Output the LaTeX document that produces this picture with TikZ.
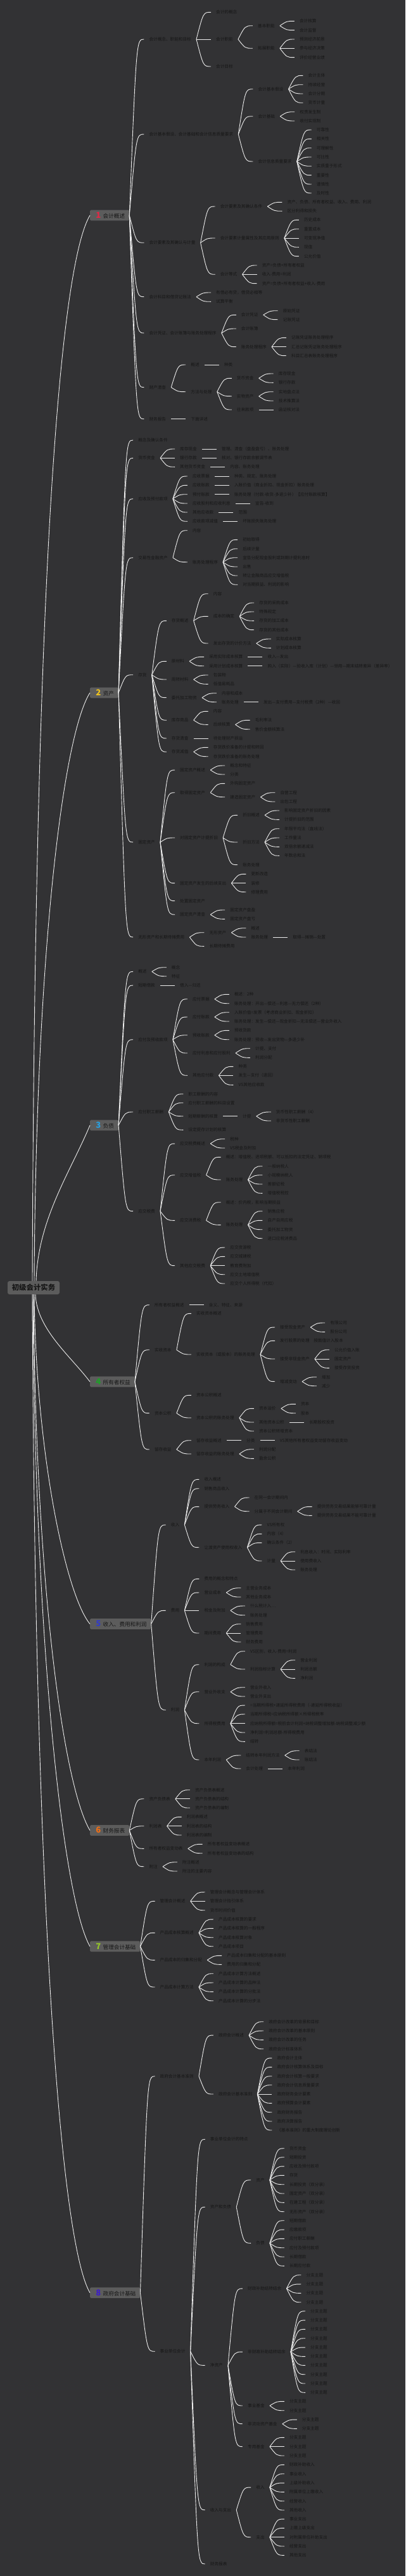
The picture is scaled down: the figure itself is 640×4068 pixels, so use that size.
\documentclass[tikz,border=0pt]{standalone}
\usepackage{fontspec}
\setmainfont{Noto Sans CJK SC}
\usepackage{tikz}
\usetikzlibrary{positioning, calc}
\usepackage{color}

\definecolor{bg}{RGB}{50,50,52}
\definecolor{boxgray}{RGB}{92,92,92}
\definecolor{ink}{RGB}{22,22,22}
\definecolor{wire}{RGB}{236,236,236}
\definecolor{no1}{RGB}{226,40,70}
\definecolor{no2}{RGB}{240,196,30}
\definecolor{no3}{RGB}{40,160,225}
\definecolor{no4}{RGB}{30,160,40}
\definecolor{no5}{RGB}{50,60,200}
\definecolor{no6}{RGB}{240,110,20}
\definecolor{no7}{RGB}{150,200,40}
\definecolor{no8}{RGB}{60,30,200}

% child node: parent, name, y, text
\newcommand\twig[4]{%
  \path (#1.east) ++(23,0) coordinate (tx);
  \coordinate (ty) at (0,#3);
  \node[tp] (#2) at (tx |- ty) {#4};
  \draw[link] (#1.east) .. controls ($(#1.east |- #2.west)+(11,0)$) .. (#2.west);
}
\newcommand\mainlabel[3]{\hspace*{10pt}\makebox[6.5pt]{\fontsize{13}{13}\selectfont\bfseries\textcolor{#1}{#2}}\hspace*{4pt}#3\hspace*{7pt}}

\begin{document}
\begin{tikzpicture}[x=1pt, y=-1pt,
  tp/.style={anchor=west, inner xsep=8pt, inner ysep=1pt, text=ink, font=\fontsize{6.63}{8}\selectfont},
  link/.style={draw=wire, line width=0.9pt},
  mainbox/.style={anchor=west, fill=boxgray, rounded corners=1.5pt, inner sep=0pt, minimum height=16.7pt, text=ink, font=\fontsize{8.6}{10}\selectfont},
  rootbox/.style={fill=boxgray, rounded corners=3pt, minimum width=82pt, minimum height=21pt, inner sep=0pt, text=ink, font=\fontsize{11.4}{13}\selectfont\bfseries}]

  \path[use as bounding box, fill=bg] (0,0) rectangle (640,4068);

  \node[rootbox] (root) at (53,2033.5) {初级会计实务};

  \node[mainbox] (m1) at (142,340) {\mainlabel{no1}{1}{会计概述}};
  \node[mainbox] (m2) at (142,1094) {\mainlabel{no2}{2}{资产}};
  \node[mainbox] (m3) at (142,1777) {\mainlabel{no3}{3}{负债}};
  \node[mainbox] (m4) at (142,2182) {\mainlabel{no4}{4}{所有者权益}};
  \node[mainbox] (m5) at (142,2564.5) {\mainlabel{no5}{5}{收入、费用和利润}};
  \node[mainbox] (m6) at (142,2890.5) {\mainlabel{no6}{6}{财务报表}};
  \node[mainbox] (m7) at (142,3073.7) {\mainlabel{no7}{7}{管理会计基础}};
  \node[mainbox] (m8) at (142,3620.7) {\mainlabel{no8}{8}{政府会计基础}};

  \draw[link] ([xshift=-2]root.north) .. controls (55,900) and (95,420) .. (m1.west);
  \draw[link] ([xshift=1]root.north) .. controls (57,1500) and (100,1160) .. (m2.west);
  \draw[link] ([xshift=4]root.north) .. controls (60,1925) and (111,1851) .. (m3.west);
  \draw[link] ([xshift=3]root.south) .. controls (58,2099) and (112,2142) .. (m4.west);
  \draw[link] ([xshift=1]root.south) .. controls (57,2300) and (105,2520) .. (m5.west);
  \draw[link] ([xshift=0]root.south) .. controls (56,2500) and (100,2820) .. (m6.west);
  \draw[link] ([xshift=-1]root.south) .. controls (55,2600) and (100,3000) .. (m7.west);
  \draw[link] ([xshift=-2]root.south) .. controls (55,3000) and (95,3540) .. (m8.west);

  % 1 会计概述
  \twig{m1}{m1a}{62}{会计概念、职能和目标}
  \twig{m1a}{m1aa}{19.3}{会计的概念}
  \twig{m1a}{m1ab}{62}{会计职能}
  \twig{m1ab}{m1aba}{40.7}{基本职能}
  \twig{m1aba}{m1abaa}{33.3}{会计核算}
  \twig{m1aba}{m1abab}{47.7}{会计监督}
  \twig{m1ab}{m1abb}{76.3}{拓展职能}
  \twig{m1abb}{m1abba}{62}{预测经济前景}
  \twig{m1abb}{m1abbb}{76.3}{参与经济决策}
  \twig{m1abb}{m1abbc}{90.7}{评价经营业绩}
  \twig{m1a}{m1ac}{105}{会计目标}
  \twig{m1}{m1b}{212}{会计基本假设、会计基础和会计信息质量要求}
  \twig{m1b}{m1ba}{140.7}{会计基本假设}
  \twig{m1ba}{m1baa}{119.3}{会计主体}
  \twig{m1ba}{m1bab}{133.7}{持续经营}
  \twig{m1ba}{m1bac}{148}{会计分期}
  \twig{m1ba}{m1bad}{162.3}{货币计量}
  \twig{m1b}{m1bb}{183.7}{会计基础}
  \twig{m1bb}{m1bba}{176.7}{权责发生制}
  \twig{m1bb}{m1bbb}{191}{收付实现制}
  \twig{m1b}{m1bc}{255}{会计信息质量要求}
  \twig{m1bc}{m1bca}{205}{可靠性}
  \twig{m1bc}{m1bcb}{219.3}{相关性}
  \twig{m1bc}{m1bcc}{233.7}{可理解性}
  \twig{m1bc}{m1bcd}{248}{可比性}
  \twig{m1bc}{m1bce}{262.3}{实质重于形式}
  \twig{m1bc}{m1bcf}{276.7}{重要性}
  \twig{m1bc}{m1bcg}{291}{谨慎性}
  \twig{m1bc}{m1bch}{305}{及时性}
  \twig{m1}{m1c}{383.3}{会计要素及其确认与计量}
  \twig{m1c}{m1ca}{326}{会计要素及其确认条件}
  \twig{m1ca}{m1caa}{319.3}{资产、负债、所有者权益、收入、费用、利润}
  \twig{m1ca}{m1cab}{333.3}{区分利得和损失}
  \twig{m1c}{m1cb}{376}{会计要素计量属性及其应用原则}
  \twig{m1cb}{m1cba}{347.3}{历史成本}
  \twig{m1cb}{m1cbb}{361.7}{重置成本}
  \twig{m1cb}{m1cbc}{376}{可变现净值}
  \twig{m1cb}{m1cbd}{390.3}{现值}
  \twig{m1cb}{m1cbe}{404.7}{公允价值}
  \twig{m1c}{m1cc}{433.3}{会计等式}
  \twig{m1cc}{m1cca}{419}{资产=负债+所有者权益}
  \twig{m1cc}{m1ccb}{433.3}{收入-费用=利润}
  \twig{m1cc}{m1ccc}{447.7}{资产=负债+所有者权益+收入-费用}
  \twig{m1}{m1d}{468.7}{会计科目和借贷记账法}
  \twig{m1d}{m1da}{462}{有借必有贷，借贷必相等}
  \twig{m1d}{m1db}{476.3}{试算平衡}
  \twig{m1}{m1e}{526}{会计凭证、会计账簿与账务处理程序}
  \twig{m1e}{m1ea}{497.3}{会计凭证}
  \twig{m1ea}{m1eaa}{490.7}{原始凭证}
  \twig{m1ea}{m1eab}{504.7}{记账凭证}
  \twig{m1e}{m1eb}{519}{会计账簿}
  \twig{m1e}{m1ec}{547.7}{账务处理程序}
  \twig{m1ec}{m1eca}{533.3}{记账凭证账务处理程序}
  \twig{m1ec}{m1ecb}{547.7}{汇总记账凭证账务处理程序}
  \twig{m1ec}{m1ecc}{561.7}{科目汇总表账务处理程序}
  \twig{m1}{m1f}{611.7}{财产清查}
  \twig{m1f}{m1fa}{576}{概述}
  \twig{m1fa}{m1faa}{576}{种类}
  \twig{m1f}{m1fb}{618.7}{方法与处理}
  \twig{m1fb}{m1fba}{597.3}{货币资金}
  \twig{m1fba}{m1fbaa}{590}{库存现金}
  \twig{m1fba}{m1fbab}{604.3}{银行存款}
  \twig{m1fb}{m1fbb}{625.7}{实物资产}
  \twig{m1fbb}{m1fbba}{618.7}{实地盘点法}
  \twig{m1fbb}{m1fbbb}{633}{技术推算法}
  \twig{m1fb}{m1fbc}{647}{往来款项}
  \twig{m1fbc}{m1fbca}{647}{函证核对法}
  \twig{m1}{m1g}{661.7}{财务报告}
  \twig{m1g}{m1ga}{661.7}{下面详述}

  % 2 资产
  \twig{m2}{m2a}{695}{概念及确认条件}
  \twig{m2}{m2b}{723.3}{货币资金}
  \twig{m2b}{m2ba}{709}{库存现金}
  \twig{m2ba}{m2baa}{709}{管理、清查（盘盈盘亏）、账务处理}
  \twig{m2b}{m2bb}{723.3}{银行存款}
  \twig{m2bb}{m2bba}{723.3}{核对、银行存款余额调节表}
  \twig{m2b}{m2bc}{737.3}{其他货币资金}
  \twig{m2bc}{m2bca}{737.3}{内容、账务处理}
  \twig{m2}{m2c}{787.7}{应收及预付款项}
  \twig{m2c}{m2ca}{752}{应收票据}
  \twig{m2ca}{m2caa}{752}{种类、规定、账务处理}
  \twig{m2c}{m2cb}{766.3}{应收账款}
  \twig{m2cb}{m2cba}{766.3}{入账价值（商业折扣、现金折扣）账务处理}
  \twig{m2c}{m2cc}{780.7}{预付账款}
  \twig{m2cc}{m2cca}{780.7}{账务处理（付款-收货-多退少补）【应付账款核算】}
  \twig{m2c}{m2cd}{795}{应收股利和应收利息}
  \twig{m2cd}{m2cda}{795}{宣告-收到}
  \twig{m2c}{m2ce}{809}{其他应收款}
  \twig{m2ce}{m2cea}{809}{范围}
  \twig{m2c}{m2cf}{823.3}{应收款项减值}
  \twig{m2cf}{m2cfa}{823.3}{坏账损失账务处理}
  \twig{m2}{m2d}{880.7}{交易性金融资产}
  \twig{m2d}{m2da}{837.7}{内容}
  \twig{m2d}{m2db}{887.7}{账务处理程序}
  \twig{m2db}{m2dba}{852.3}{初始取得}
  \twig{m2db}{m2dbb}{866.7}{后续计量}
  \twig{m2db}{m2dbc}{880.7}{宣告分配现金股利或到期计提利息时}
  \twig{m2db}{m2dbd}{895}{出售}
  \twig{m2db}{m2dbe}{909}{转让金融商品应交增值税}
  \twig{m2db}{m2dbf}{923.3}{对当期损益、利润的影响}
  \twig{m2}{m2e}{1065.7}{存货}
  \twig{m2e}{m2ea}{980.3}{存货概述}
  \twig{m2ea}{m2eaa}{937.7}{内容}
  \twig{m2ea}{m2eab}{973.3}{成本的确定}
  \twig{m2eab}{m2eaba}{952}{存货的采购成本}
  \twig{m2eab}{m2eabb}{966}{特殊规定}
  \twig{m2eab}{m2eabc}{980.3}{存货的加工成本}
  \twig{m2eab}{m2eabd}{994.7}{存货的其他成本}
  \twig{m2ea}{m2eac}{1016}{发出存货的计价方法}
  \twig{m2eac}{m2eaca}{1009}{实际成本核算}
  \twig{m2eac}{m2eacb}{1023.3}{计划成本核算}
  \twig{m2e}{m2eb}{1044.3}{原材料}
  \twig{m2eb}{m2eba}{1037.3}{采用实际成本核算}
  \twig{m2eba}{m2ebaa}{1037.3}{收入—发出}
  \twig{m2eb}{m2ebb}{1051.7}{采用计划成本核算}
  \twig{m2ebb}{m2ebba}{1051.7}{购入（实际）—验收入库（计划）—领用—期末结转差异（差异率）}
  \twig{m2e}{m2ec}{1073}{周转材料}
  \twig{m2ec}{m2eca}{1066}{包装物}
  \twig{m2ec}{m2ecb}{1080.3}{低值易耗品}
  \twig{m2e}{m2ed}{1101.7}{委托加工物资}
  \twig{m2ed}{m2eda}{1094.7}{内容和成本}
  \twig{m2ed}{m2edb}{1108.7}{账务处理}
  \twig{m2edb}{m2edba}{1108.7}{发出—支付费用—支付税费（2种）—收回}
  \twig{m2e}{m2ee}{1137.3}{库存商品}
  \twig{m2ee}{m2eea}{1123.3}{内容}
  \twig{m2ee}{m2eeb}{1144.3}{后续核算}
  \twig{m2eeb}{m2eeba}{1137.3}{毛利率法}
  \twig{m2eeb}{m2eebb}{1151.7}{售价金额核算法}
  \twig{m2e}{m2ef}{1166}{存货清查}
  \twig{m2ef}{m2efa}{1166}{待处理财产损溢}
  \twig{m2e}{m2eg}{1187.3}{存货减值}
  \twig{m2eg}{m2ega}{1180.3}{存货跌价准备的计提和转回}
  \twig{m2eg}{m2egb}{1194.7}{存货跌价准备的账务处理}
  \twig{m2}{m2f}{1330}{固定资产}
  \twig{m2f}{m2fa}{1216}{固定资产概述}
  \twig{m2fa}{m2faa}{1209}{概念和特征}
  \twig{m2fa}{m2fab}{1223}{分类}
  \twig{m2f}{m2fb}{1251.7}{取得固定资产}
  \twig{m2fb}{m2fba}{1237.3}{外购固定资产}
  \twig{m2fb}{m2fbb}{1258.7}{建造固定资产}
  \twig{m2fbb}{m2fbba}{1251.7}{自营工程}
  \twig{m2fbb}{m2fbbb}{1266}{出包工程}
  \twig{m2f}{m2fc}{1323}{对固定资产计提折旧}
  \twig{m2fc}{m2fca}{1287.3}{折旧概述}
  \twig{m2fca}{m2fcaa}{1280}{影响固定资产折旧的因素}
  \twig{m2fca}{m2fcab}{1294.3}{计提折旧的范围}
  \twig{m2fc}{m2fcb}{1330}{折旧方法}
  \twig{m2fcb}{m2fcba}{1308.7}{年限平均法（直线法）}
  \twig{m2fcb}{m2fcbb}{1323}{工作量法}
  \twig{m2fcb}{m2fcbc}{1337.3}{双倍余额递减法}
  \twig{m2fcb}{m2fcbd}{1351.3}{年数总和法}
  \twig{m2fc}{m2fcc}{1365.7}{账务处理}
  \twig{m2f}{m2fd}{1394.7}{固定资产发生的后续支出}
  \twig{m2fd}{m2fda}{1380.3}{更新改造}
  \twig{m2fd}{m2fdb}{1394.7}{装修}
  \twig{m2fd}{m2fdc}{1408.7}{修理费用}
  \twig{m2f}{m2fe}{1422.7}{处置固定资产}
  \twig{m2f}{m2ff}{1444.3}{固定资产清查}
  \twig{m2ff}{m2ffa}{1437}{固定资产盘盈}
  \twig{m2ff}{m2ffb}{1451.3}{固定资产盘亏}
  \twig{m2}{m2g}{1480}{无形资产和长期待摊费用}
  \twig{m2g}{m2ga}{1472.7}{无形资产}
  \twig{m2ga}{m2gaa}{1465.7}{概述}
  \twig{m2ga}{m2gab}{1480}{账务处理}
  \twig{m2gab}{m2gaba}{1480}{取得—摊销—处置}
  \twig{m2g}{m2gb}{1494.3}{长期待摊费用}

  % 3 负债
  \twig{m3}{m3a}{1534.3}{概述}
  \twig{m3a}{m3aa}{1527.7}{概念}
  \twig{m3a}{m3ab}{1541.7}{特征}
  \twig{m3}{m3b}{1556}{短期借款}
  \twig{m3b}{m3ba}{1556}{借入—归还}
  \twig{m3}{m3c}{1641.7}{应付及预收款项}
  \twig{m3c}{m3ca}{1577.7}{应付票据}
  \twig{m3ca}{m3caa}{1570.3}{概述：2种}
  \twig{m3ca}{m3cab}{1584.7}{账务处理：开出—偿还—利息—无力偿还（2种）}
  \twig{m3c}{m3cb}{1606}{应付账款}
  \twig{m3cb}{m3cba}{1598.7}{入账价值=发票（考虑商业折扣、现金折扣）}
  \twig{m3cb}{m3cbb}{1613}{账务处理：发生—偿还—现金折扣—无法偿还—营业外收入}
  \twig{m3c}{m3cc}{1634.7}{预收账款}
  \twig{m3cc}{m3cca}{1627.3}{预收货款}
  \twig{m3cc}{m3ccb}{1641.7}{账务处理：预收—发出货物—多退少补}
  \twig{m3c}{m3cd}{1663}{应付利息和应付股利}
  \twig{m3cd}{m3cda}{1655.7}{计提、支付}
  \twig{m3cd}{m3cdb}{1670.3}{利润分配}
  \twig{m3c}{m3ce}{1698.3}{其他应付款}
  \twig{m3ce}{m3cea}{1684.3}{种类}
  \twig{m3ce}{m3ceb}{1698.3}{发生—支付（退回）}
  \twig{m3ce}{m3cec}{1713.3}{VS其他应收款}
  \twig{m3}{m3d}{1756}{应付职工薪酬}
  \twig{m3d}{m3da}{1727.7}{职工薪酬的内容}
  \twig{m3d}{m3db}{1741.7}{应付职工薪酬的科目设置}
  \twig{m3d}{m3dc}{1762.7}{短期薪酬的核算}
  \twig{m3dc}{m3dca}{1762.7}{计提}
  \twig{m3dca}{m3dcaa}{1756}{货币性职工薪酬（4）}
  \twig{m3dca}{m3dcab}{1770}{非货币性职工薪酬}
  \twig{m3d}{m3dd}{1784.3}{设定提存计划的核算}
  \twig{m3}{m3e}{1912.7}{应交税费}
  \twig{m3e}{m3ea}{1806}{应交税费概述}
  \twig{m3ea}{m3eaa}{1798.7}{税种}
  \twig{m3ea}{m3eab}{1813}{VS税金及附加}
  \twig{m3e}{m3eb}{1855.7}{应交增值税}
  \twig{m3eb}{m3eba}{1827.3}{概述：增值税、进项税额、可以抵扣的法定凭证、销项税}
  \twig{m3eb}{m3ebb}{1863}{账务处理}
  \twig{m3ebb}{m3ebba}{1841.7}{一般纳税人}
  \twig{m3ebb}{m3ebbb}{1855.7}{小规模纳税人}
  \twig{m3ebb}{m3ebbc}{1870}{差额征税}
  \twig{m3ebb}{m3ebbd}{1884.3}{增值税税控}
  \twig{m3e}{m3ec}{1927.3}{应交消费税}
  \twig{m3ec}{m3eca}{1898.7}{概述：价内税，影响当期损益}
  \twig{m3ec}{m3ecb}{1934.3}{账务处理}
  \twig{m3ecb}{m3ecba}{1912.7}{销售应税}
  \twig{m3ecb}{m3ecbb}{1927.3}{自产自用应税}
  \twig{m3ecb}{m3ecbc}{1941.7}{委托加工物资}
  \twig{m3ecb}{m3ecbd}{1955.7}{进口应税消费品}
  \twig{m3e}{m3ed}{1998.7}{其他应交税费}
  \twig{m3ed}{m3eda}{1970}{应交资源税}
  \twig{m3ed}{m3edb}{1984.3}{应交城建税}
  \twig{m3ed}{m3edc}{1998.7}{教育费附加}
  \twig{m3ed}{m3edd}{2012.7}{应交土地增值税}
  \twig{m3ed}{m3ede}{2027}{应交个人所得税（代扣）}

  % 4 所有者权益
  \twig{m4}{m4a}{2060.7}{所有者权益概述}
  \twig{m4a}{m4aa}{2060.7}{含义、特征、来源}
  \twig{m4}{m4b}{2131.7}{实收资本}
  \twig{m4b}{m4ba}{2074.3}{实收资本概述}
  \twig{m4b}{m4bb}{2139}{实收资本（或股本）的账务处理}
  \twig{m4bb}{m4bba}{2096}{接受现金资产}
  \twig{m4bba}{m4bbaa}{2089}{有限公司}
  \twig{m4bba}{m4bbab}{2103.3}{股份公司}
  \twig{m4bb}{m4bbb}{2117.3}{发行股票的处理\quad 按面值计入股本}
  \twig{m4bb}{m4bbc}{2146}{接受非现金资产}
  \twig{m4bbc}{m4bbca}{2131.7}{公允价值入账}
  \twig{m4bbc}{m4bbcb}{2146}{固定资产}
  \twig{m4bbc}{m4bbcc}{2160.3}{接受存货投资}
  \twig{m4bb}{m4bbd}{2181.7}{增减变动}
  \twig{m4bbd}{m4bbda}{2174.7}{增加}
  \twig{m4bbd}{m4bbdb}{2188.7}{减少}
  \twig{m4}{m4c}{2231.7}{资本公积}
  \twig{m4c}{m4ca}{2203.3}{资本公积概述}
  \twig{m4c}{m4cb}{2239}{资本公积的账务处理}
  \twig{m4cb}{m4cba}{2224.3}{资本溢价}
  \twig{m4cba}{m4cbaa}{2217.3}{资本}
  \twig{m4cba}{m4cbab}{2231.7}{股本}
  \twig{m4cb}{m4cbb}{2246}{其他资本公积}
  \twig{m4cbb}{m4cbba}{2246}{长期股权投资}
  \twig{m4cb}{m4cbc}{2260}{资本公积转增资本}
  \twig{m4}{m4d}{2289}{留存收益}
  \twig{m4d}{m4da}{2274.7}{留存收益概述}
  \twig{m4da}{m4daa}{2274.7}{分类}
  \twig{m4daa}{m4daaa}{2274.7}{VS其他所有者权益变动留存收益变动}
  \twig{m4d}{m4db}{2296}{留存收益的账务处理}
  \twig{m4db}{m4dba}{2288.7}{利润分配}
  \twig{m4db}{m4dbb}{2303.3}{盈余公积}

  % 5 收入、费用和利润
  \twig{m5}{m5a}{2408}{收入}
  \twig{m5a}{m5aa}{2336.3}{收入概述}
  \twig{m5a}{m5ab}{2350.7}{销售商品收入}
  \twig{m5a}{m5ac}{2379.3}{提供劳务收入}
  \twig{m5ac}{m5aca}{2365}{在同一会计期间内}
  \twig{m5ac}{m5acb}{2386.7}{分属于不同会计期间}
  \twig{m5acb}{m5acba}{2379.3}{提供劳务交易结果能够可靠计量}
  \twig{m5acb}{m5acbb}{2393.3}{提供劳务交易结果不能可靠计量}
  \twig{m5a}{m5ad}{2443.7}{让渡资产使用权收入}
  \twig{m5ad}{m5ada}{2408}{VS所有权}
  \twig{m5ad}{m5adb}{2422.3}{内容（4）}
  \twig{m5ad}{m5adc}{2436.3}{确认条件（2）}
  \twig{m5ad}{m5add}{2465}{计量}
  \twig{m5add}{m5adda}{2450.7}{利息收入：时间、实际利率}
  \twig{m5add}{m5addb}{2465}{使用费收入}
  \twig{m5add}{m5addc}{2479}{账务处理}
  \twig{m5}{m5b}{2543.3}{费用}
  \twig{m5b}{m5ba}{2493.3}{费用的概念和特点}
  \twig{m5b}{m5bb}{2515}{营业成本}
  \twig{m5bb}{m5bba}{2507.7}{主营业务成本}
  \twig{m5bb}{m5bbb}{2522}{其他业务成本}
  \twig{m5b}{m5bc}{2543.3}{税金及附加}
  \twig{m5bc}{m5bca}{2536}{什么税计入…}
  \twig{m5bc}{m5bcb}{2550.7}{账务处理}
  \twig{m5b}{m5bd}{2579}{期间费用}
  \twig{m5bd}{m5bda}{2564.7}{销售费用}
  \twig{m5bd}{m5bdb}{2579}{管理费用}
  \twig{m5bd}{m5bdc}{2593}{财务费用}
  \twig{m5}{m5c}{2700.3}{利润}
  \twig{m5c}{m5ca}{2628.7}{利润的构成}
  \twig{m5ca}{m5caa}{2607.7}{VS区别，收入-费用=利润}
  \twig{m5ca}{m5cab}{2636}{利润指标计算}
  \twig{m5cab}{m5caba}{2621.7}{营业利润}
  \twig{m5cab}{m5cabb}{2636}{利润总额}
  \twig{m5cab}{m5cabc}{2650.3}{净利润}
  \twig{m5c}{m5cb}{2671.7}{营业外收支}
  \twig{m5cb}{m5cba}{2664.7}{营业外收入}
  \twig{m5cb}{m5cbb}{2679}{营业外支出}
  \twig{m5c}{m5cc}{2721.7}{所得税费用}
  \twig{m5cc}{m5cca}{2693}{=当期所得税+递延所得税费用（-递延所得税收益）}
  \twig{m5cc}{m5ccb}{2707}{当期所得税=应纳税所得额×所得税税率}
  \twig{m5cc}{m5ccc}{2721.7}{应纳税所得额=税前会计利润+纳税调整增加额-纳税调整减少额}
  \twig{m5cc}{m5ccd}{2736}{净利润=利润总额-所得税费用}
  \twig{m5cc}{m5cce}{2750.3}{结转}
  \twig{m5c}{m5cd}{2779}{本年利润}
  \twig{m5cd}{m5cda}{2772}{结转本年利润方法}
  \twig{m5cda}{m5cdaa}{2764.7}{表结法}
  \twig{m5cda}{m5cdab}{2779}{账结法}
  \twig{m5cd}{m5cdb}{2793}{会计处理}
  \twig{m5cdb}{m5cdba}{2793}{本年利润}

  % 6 财务报表
  \twig{m6}{m6a}{2840.7}{资产负债表}
  \twig{m6a}{m6aa}{2826.7}{资产负债表概述}
  \twig{m6a}{m6ab}{2840.7}{资产负债表的结构}
  \twig{m6a}{m6ac}{2855}{资产负债表的编制}
  \twig{m6}{m6b}{2883.7}{利润表}
  \twig{m6b}{m6ba}{2869.3}{利润表概述}
  \twig{m6b}{m6bb}{2883.7}{利润表的结构}
  \twig{m6b}{m6bc}{2898}{利润表的编制}
  \twig{m6}{m6c}{2919.3}{所有者权益变动表}
  \twig{m6c}{m6ca}{2912.3}{所有者权益变动表概述}
  \twig{m6c}{m6cb}{2926.7}{所有者权益变动表的结构}
  \twig{m6}{m6d}{2947.7}{附注}
  \twig{m6d}{m6da}{2940.7}{附注概述}
  \twig{m6d}{m6db}{2955}{附注的主要内容}

  % 7 管理会计基础
  \twig{m7}{m7a}{3002.3}{管理会计概述}
  \twig{m7a}{m7aa}{2988}{管理会计概念与管理会计体系}
  \twig{m7a}{m7ab}{3002.3}{管理会计指引体系}
  \twig{m7a}{m7ac}{3016.7}{货币时间价值}
  \twig{m7}{m7b}{3052.3}{产品成本核算概述}
  \twig{m7b}{m7ba}{3031}{产品成本核算的要求}
  \twig{m7b}{m7bb}{3045.3}{产品成本核算的一般程序}
  \twig{m7b}{m7bc}{3059.7}{产品成本核算对象}
  \twig{m7b}{m7bd}{3073.7}{产品成本项目}
  \twig{m7}{m7c}{3095.3}{产品成本的归集和分配}
  \twig{m7c}{m7ca}{3088.3}{产品成本归集和分配的基本原则}
  \twig{m7c}{m7cb}{3102.3}{费用的归集和分配}
  \twig{m7}{m7d}{3138}{产品成本计算方法}
  \twig{m7d}{m7da}{3116.7}{产品成本计算方法概述}
  \twig{m7d}{m7db}{3131}{产品成本计算的品种法}
  \twig{m7d}{m7dc}{3145.3}{产品成本计算的分批法}
  \twig{m7d}{m7dd}{3159.7}{产品成本计算的分步法}

  % 8 政府会计基础
  \twig{m8}{m8a}{3278.7}{政府会计基本准则}
  \twig{m8a}{m8aa}{3214}{政府会计概述}
  \twig{m8aa}{m8aaa}{3192.7}{政府会计改革的背景和目标}
  \twig{m8aa}{m8aab}{3207}{政府会计改革的基本原则}
  \twig{m8aa}{m8aac}{3221.3}{政府会计改革的任务}
  \twig{m8aa}{m8aad}{3235.7}{政府会计标准体系}
  \twig{m8a}{m8ab}{3307}{政府会计基本准则}
  \twig{m8ab}{m8aba}{3250}{政府会计主体}
  \twig{m8ab}{m8abb}{3264.3}{政府会计核算体系及目标}
  \twig{m8ab}{m8abc}{3278.7}{政府会计核算一般要求}
  \twig{m8ab}{m8abd}{3292.7}{政府会计信息质量要求}
  \twig{m8ab}{m8abe}{3307}{政府财务会计要素}
  \twig{m8ab}{m8abf}{3321.3}{政府预算会计要素}
  \twig{m8ab}{m8abg}{3335.7}{政府财务报告}
  \twig{m8ab}{m8abh}{3350}{政府决算报告}
  \twig{m8ab}{m8abi}{3364}{《基本准则》的重大制度理论创新}
  \twig{m8}{m8b}{3713.3}{事业单位会计}
  \twig{m8b}{m8ba}{3378.3}{事业单位会计的特点}
  \twig{m8b}{m8bb}{3485.3}{资产和负债}
  \twig{m8bb}{m8bba}{3442.7}{资产}
  \twig{m8bba}{m8bbaa}{3392.7}{货币资金}
  \twig{m8bba}{m8bbab}{3406.7}{短期投资}
  \twig{m8bba}{m8bbac}{3421}{应收及预付款项}
  \twig{m8bba}{m8bbad}{3435.3}{存货}
  \twig{m8bba}{m8bbae}{3449.7}{长期投资（双分录）}
  \twig{m8bba}{m8bbaf}{3464}{固定资产（双分录）}
  \twig{m8bba}{m8bbag}{3478.3}{在建工程（双分录）}
  \twig{m8bba}{m8bbah}{3492.7}{无形资产（双分录）}
  \twig{m8bb}{m8bbb}{3542.3}{负债}
  \twig{m8bbb}{m8bbba}{3506.7}{短期借款}
  \twig{m8bbb}{m8bbbb}{3521}{应缴款项}
  \twig{m8bbb}{m8bbbc}{3535.3}{应付职工薪酬}
  \twig{m8bbb}{m8bbbd}{3549.7}{应付及预付款项}
  \twig{m8bbb}{m8bbbe}{3564}{长期借款}
  \twig{m8bbb}{m8bbbf}{3578.3}{长期应付款}
  \twig{m8b}{m8bc}{3735.3}{净资产}
  \twig{m8bc}{m8bca}{3614}{财政补助结转结余}
  \twig{m8bca}{m8bcaa}{3592.7}{分支主题}
  \twig{m8bca}{m8bcab}{3607}{分支主题}
  \twig{m8bca}{m8bcac}{3621.3}{分支主题}
  \twig{m8bca}{m8bcad}{3635.7}{分支主题}
  \twig{m8bc}{m8bcb}{3714}{非财政补助结转结余}
  \twig{m8bcb}{m8bcba}{3649.7}{分支主题}
  \twig{m8bcb}{m8bcbb}{3664}{分支主题}
  \twig{m8bcb}{m8bcbc}{3678.3}{分支主题}
  \twig{m8bcb}{m8bcbd}{3692.7}{分支主题}
  \twig{m8bcb}{m8bcbe}{3707}{分支主题}
  \twig{m8bcb}{m8bcbf}{3721.3}{分支主题}
  \twig{m8bcb}{m8bcbg}{3735.3}{分支主题}
  \twig{m8bcb}{m8bcbh}{3749.7}{分支主题}
  \twig{m8bcb}{m8bcbi}{3764}{分支主题}
  \twig{m8bcb}{m8bcbj}{3778.3}{分支主题}
  \twig{m8bc}{m8bcc}{3799}{事业基金}
  \twig{m8bcc}{m8bcca}{3792.3}{分支主题}
  \twig{m8bcc}{m8bccb}{3806.7}{分支主题}
  \twig{m8bc}{m8bcd}{3827.7}{非流动资产基金}
  \twig{m8bcd}{m8bcda}{3821}{分支主题}
  \twig{m8bcd}{m8bcdb}{3835.3}{分支主题}
  \twig{m8bc}{m8bce}{3863.7}{专用基金}
  \twig{m8bce}{m8bcea}{3849.3}{分支主题}
  \twig{m8bce}{m8bceb}{3863.7}{分支主题}
  \twig{m8bce}{m8bcec}{3878}{分支主题}
  \twig{m8b}{m8bd}{3963.7}{收入与支出}
  \twig{m8bd}{m8bda}{3928}{收入}
  \twig{m8bda}{m8bdaa}{3892.3}{财政补助收入}
  \twig{m8bda}{m8bdab}{3906.7}{事业收入}
  \twig{m8bda}{m8bdac}{3921}{上级补助收入}
  \twig{m8bda}{m8bdad}{3935.3}{附属单位上缴收入}
  \twig{m8bda}{m8bdae}{3949.7}{经营收入}
  \twig{m8bda}{m8bdaf}{3964}{其他收入}
  \twig{m8bd}{m8bdb}{4006.7}{支出}
  \twig{m8bdb}{m8bdba}{3978}{事业支出}
  \twig{m8bdb}{m8bdbb}{3992.3}{上缴上级支出}
  \twig{m8bdb}{m8bdbc}{4006.7}{对附属单位补助支出}
  \twig{m8bdb}{m8bdbd}{4021}{经营支出}
  \twig{m8bdb}{m8bdbe}{4035.3}{其他支出}
  \twig{m8b}{m8be}{4049}{财务报表}
\end{tikzpicture}
\end{document}
